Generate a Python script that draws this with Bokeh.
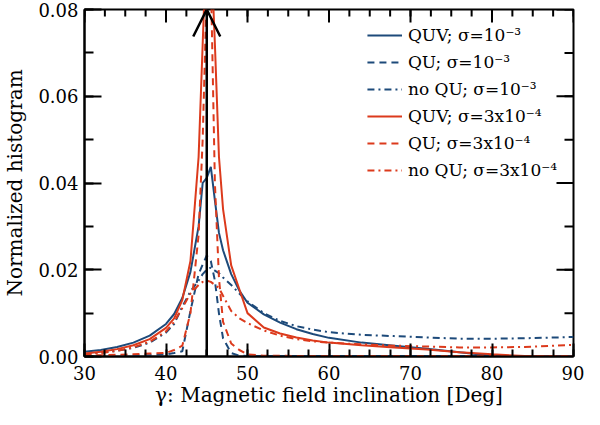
import math

from bokeh.plotting import figure
from bokeh.models import (Range1d, SingleIntervalTicker, NumeralTickFormatter,
                          Legend, LegendItem, Arrow, OpenHead)
from bokeh.embed import file_html
from bokeh.resources import INLINE

# inclination grid (deg) and normalized histograms
gamma = [30, 32, 34, 36, 38, 40, 41, 42, 43, 44, 44.5, 45, 45.5, 46, 46.5, 47,
         48, 49, 50, 52, 54, 56, 58, 60, 64, 68, 72, 76, 80, 84, 88, 90]

quv_1e3 = [0.0011, 0.0015, 0.0022, 0.0032, 0.0048, 0.0075, 0.0098, 0.0135, 0.0195, 0.0300,
           0.0400, 0.0412, 0.0437, 0.0360, 0.0285, 0.0245, 0.0190, 0.0152, 0.0124, 0.0097,
           0.0078, 0.0063, 0.0052, 0.0043, 0.0032, 0.0025, 0.0018, 0.0010, 0.0002, 0.0,
           0.0, 0.0]
qu_1e3 = [0.0001, 0.0001, 0.0002, 0.0002, 0.0003, 0.0005, 0.0008, 0.0012, 0.0105, 0.0190,
          0.0212, 0.0233, 0.0220, 0.0175, 0.0099, 0.0042, 0.0008, 0.0002, 0.0001, 0.0001,
          0.0001, 0.0001, 0.0001, 0.0001, 0.0001, 0.0001, 0.0001, 0.0001, 0.0001, 0.0001,
          0.0001, 0.0001]
noqu_1e3 = [0.0006, 0.0009, 0.0013, 0.0020, 0.0032, 0.0055, 0.0075, 0.0115, 0.0150, 0.0175,
            0.0190, 0.0200, 0.0205, 0.0198, 0.0192, 0.0182, 0.0165, 0.0145, 0.0127, 0.0100,
            0.0082, 0.0070, 0.0062, 0.0056, 0.0050, 0.0047, 0.0044, 0.0041, 0.0041, 0.0042,
            0.0044, 0.0045]
quv_3e4 = [0.0007, 0.0011, 0.0017, 0.0026, 0.0040, 0.0066, 0.0088, 0.0130, 0.0220, 0.0460,
           0.0720, 0.0980, 0.0950, 0.0720, 0.0460, 0.0340, 0.0210, 0.0155, 0.0100, 0.0067,
           0.0053, 0.0044, 0.0037, 0.0032, 0.0026, 0.0021, 0.0016, 0.0010, 0.0005, 0.0001,
           0.0, 0.0]
qu_3e4 = [0.0002, 0.0003, 0.0004, 0.0005, 0.0007, 0.0008, 0.0015, 0.0025, 0.0100, 0.0280,
          0.0500, 0.0850, 0.0880, 0.0400, 0.0180, 0.0080, 0.0030, 0.0015, 0.0005, 0.0002,
          0.0002, 0.0001, 0.0001, 0.0001, 0.0001, 0.0001, 0.0001, 0.0001, 0.0001, 0.0001,
          0.0001, 0.0001]
noqu_3e4 = [0.0004, 0.0008, 0.0013, 0.0021, 0.0034, 0.0058, 0.0080, 0.0112, 0.0145, 0.0165,
            0.0172, 0.0175, 0.0172, 0.0165, 0.0158, 0.0140, 0.0105, 0.0088, 0.0077, 0.0060,
            0.0048, 0.0040, 0.0035, 0.0032, 0.0028, 0.0025, 0.0023, 0.0021, 0.0021, 0.0022,
            0.0025, 0.0027]

labels = ["QUV; σ=10⁻³", "QU; σ=10⁻³", "no QU; σ=10⁻³",
          "QUV; σ=3x10⁻⁴", "QU; σ=3x10⁻⁴", "no QU; σ=3x10⁻⁴"]

true_gamma = 45
x_lim = (30, 90)
y_lim = (0, 0.08)
x_step, x_minor_n = 10, 4
y_step, y_minor_n = 0.02, 2

BLUE = "#1d4a7a"
RED = "#dc3a1c"
FONT = "DejaVu Serif"

p = figure(width=584, height=409, output_backend="svg", toolbar_location=None,
           x_range=Range1d(*x_lim), y_range=Range1d(*y_lim),
           min_border_left=76, min_border_right=11, min_border_top=9, min_border_bottom=0)
p.grid.visible = False
p.outline_line_color = "black"
p.outline_line_width = 2
p.background_fill_color = "white"
p.border_fill_color = "white"


def style(ax, major, minor):
    ax.axis_line_width = 2
    ax.major_tick_line_width = 2
    ax.minor_tick_line_width = 2
    ax.major_tick_in = major
    ax.major_tick_out = 0
    ax.minor_tick_in = minor
    ax.minor_tick_out = 0
    ax.major_label_text_font = FONT
    ax.major_label_text_font_size = "18px"
    ax.major_label_text_color = "black"
    ax.axis_label_text_font = FONT
    ax.axis_label_text_font_size = "20px"
    ax.axis_label_text_font_style = "normal"
    ax.axis_label_text_color = "black"


xa = p.xaxis[0]
xa.ticker = SingleIntervalTicker(interval=x_step, num_minor_ticks=x_minor_n)
xa.axis_label = "γ: Magnetic field inclination [Deg]"
xa.major_label_standoff = 9
xa.axis_label_standoff = 0
style(xa, 13, 7)

ya = p.yaxis[0]
ya.ticker = SingleIntervalTicker(interval=y_step, num_minor_ticks=y_minor_n)
ya.formatter = NumeralTickFormatter(format="0.00")
ya.axis_label = "Normalized histogram"
ya.major_label_standoff = 6
ya.axis_label_standoff = 8
style(ya, 17, 9)

# mirrored inward ticks on the top and right edges
nx = round((x_lim[1] - x_lim[0]) / x_step)
ny = round((y_lim[1] - y_lim[0]) / y_step)
x_major = [x_lim[0] + i * x_step for i in range(nx + 1)]
x_minor = [x_lim[0] + i * x_step / x_minor_n for i in range(nx * x_minor_n + 1)]
y_major = [y_lim[0] + i * y_step for i in range(ny + 1)]
y_minor = [y_lim[0] + i * y_step / y_minor_n for i in range(ny * y_minor_n + 1)]

for xs, ln in ((x_minor, 7), (x_major, 13)):
    p.ray(x=xs, y=[y_lim[1]] * len(xs), length=ln, angle=-math.pi / 2,
          length_units="screen", line_color="black", line_width=2)
for ys, ln in ((y_minor, 9), (y_major, 17)):
    p.ray(x=[x_lim[1]] * len(ys), y=ys, length=ln, angle=math.pi,
          length_units="screen", line_color="black", line_width=2)

r1 = p.line(gamma, quv_1e3, line_color=BLUE, line_width=2)
r2 = p.line(gamma, qu_1e3, line_color=BLUE, line_width=2, line_dash="7 5")
r3 = p.line(gamma, noqu_1e3, line_color=BLUE, line_width=2, line_dash="7 4 2 4")
r4 = p.line(gamma, quv_3e4, line_color=RED, line_width=2)
r5 = p.line(gamma, qu_3e4, line_color=RED, line_width=2, line_dash="7 5")
r6 = p.line(gamma, noqu_3e4, line_color=RED, line_width=2, line_dash="7 4 2 4")

p.add_layout(Arrow(x_start=true_gamma, y_start=y_lim[0], x_end=true_gamma, y_end=y_lim[1],
                   line_color="black", line_width=2.5,
                   end=OpenHead(size=27, line_width=2.5, line_color="black")))

legend = Legend(items=[LegendItem(label=l, renderers=[r])
                       for l, r in zip(labels, [r1, r2, r3, r4, r5, r6])],
                location="top_right", background_fill_alpha=0, border_line_alpha=0,
                label_text_font=FONT, label_text_font_size="17px", label_text_color="black",
                glyph_width=35, glyph_height=20, label_height=20, label_standoff=6,
                spacing=7, padding=4, margin=12)
p.add_layout(legend)

open("out.html", "w").write(file_html(p, INLINE))
